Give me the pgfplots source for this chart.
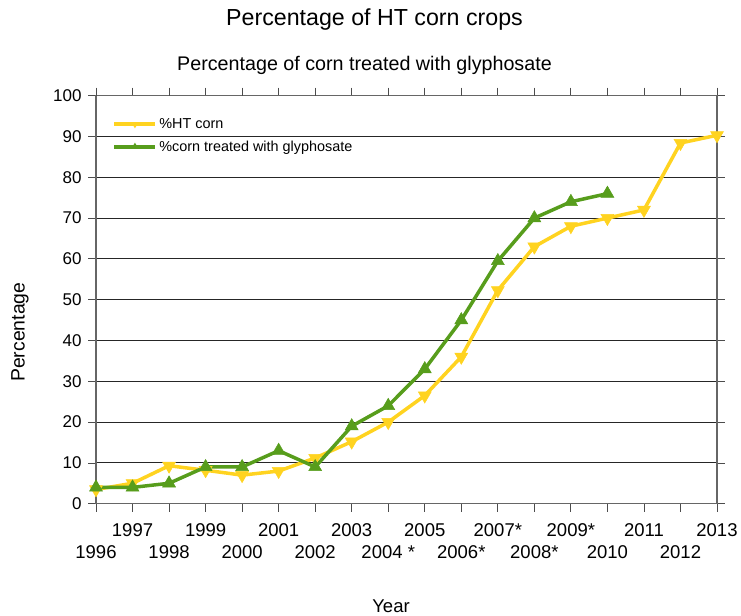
\documentclass[border=0pt]{standalone}
\usepackage{pgfplots}
\pgfplotsset{compat=1.18}
\usepackage{fontspec}
\setmainfont{Liberation Sans}
\definecolor{htyellow}{HTML}{FFD320}
\definecolor{glygreen}{HTML}{579D1C}
\begin{document}
\begin{tikzpicture}
\begin{axis}[
  name=ax,
  scale only axis,
  width=621pt, height=408pt,
  xmin=1996, xmax=2013,
  ymin=0, ymax=100,
  ytick={0,10,...,100},
  xtick={1997,1999,...,2013},
  xticklabels={1997,1999,2001,2003,2005,2007*,2009*,2011,2013},
  extra x ticks={1996,1998,...,2012},
  extra x tick labels={1996,1998,2000,2002,2004 *,2006*,2008*,2010,2012},
  extra x tick style={xticklabel style={yshift=-22pt}},
  tick align=outside,
  major tick length=8pt,
  tick style={black!70, line width=0.8pt},
  axis line style={black!60, line width=1.5pt},
  ymajorgrids,
  grid style={black!85, line width=0.9pt},
  clip=false,
  /pgf/number format/assume math mode=true,
  /pgf/number format/1000 sep={},
  yticklabel style={font=\fontsize{17}{20}\selectfont, xshift=-3pt},
  xticklabel style={font=\fontsize{18.5}{22}\selectfont, yshift=-8pt},
  legend style={draw=none, fill=none, at={(0.0213,0.954)}, anchor=north west,
    font=\fontsize{14.4}{17}\selectfont, row sep=6.5pt},
  legend cell align=left,
  legend image code/.code={
    \draw[#1, line width=4pt, mark size=0pt] (0pt,0pt) -- (41pt,0pt);
    \draw[#1, line width=0pt, draw opacity=0, mark size=4pt] plot coordinates {(20.5pt,0pt)};
  },
]
\addplot[htyellow, line width=3.5pt, mark=triangle*, mark size=7.5pt,
  mark options={rotate=180, line width=0.5pt, fill=htyellow}] coordinates {
(1996,3.5) (1997,5) (1998,9.3) (1999,8.2) (2000,7) (2001,8) (2002,11.2) (2003,15.2)
(2004,20) (2005,26.5) (2006,36) (2007,52.3) (2008,63) (2009,68) (2010,70)
(2011,72) (2012,88.4) (2013,90.3)};
\addlegendentry{\%HT corn}
\addplot[glygreen, line width=3.5pt, mark=triangle*, mark size=7.5pt,
  mark options={line width=0.5pt, fill=glygreen}] coordinates {
(1996,4) (1997,4) (1998,5) (1999,9) (2000,9) (2001,13) (2002,9) (2003,19)
(2004,24) (2005,33) (2006,45) (2007,59.5) (2008,70) (2009,74) (2010,76)};
\addlegendentry{\%corn treated with glyphosate}
\end{axis}
\node[font=\fontsize{23.2}{26}\selectfont] at ([xshift=278.5pt,yshift=75.7pt]ax.north west) {Percentage of HT corn crops};
\node[font=\fontsize{19.7}{23}\selectfont] at ([xshift=268.5pt,yshift=30.7pt]ax.north west) {Percentage of corn treated with glyphosate};
\node[font=\fontsize{19.4}{23}\selectfont, rotate=90] at ([xshift=-76pt,yshift=171.5pt]ax.south west) {Percentage};
\node[font=\fontsize{18.5}{22}\selectfont] at ([xshift=295pt,yshift=-102.5pt]ax.south west) {Year};
\pgfresetboundingbox
\path ([xshift=-96pt,yshift=-111.5pt]ax.south west) rectangle ([xshift=24pt,yshift=95.7pt]ax.north east);
\end{tikzpicture}
\end{document}
